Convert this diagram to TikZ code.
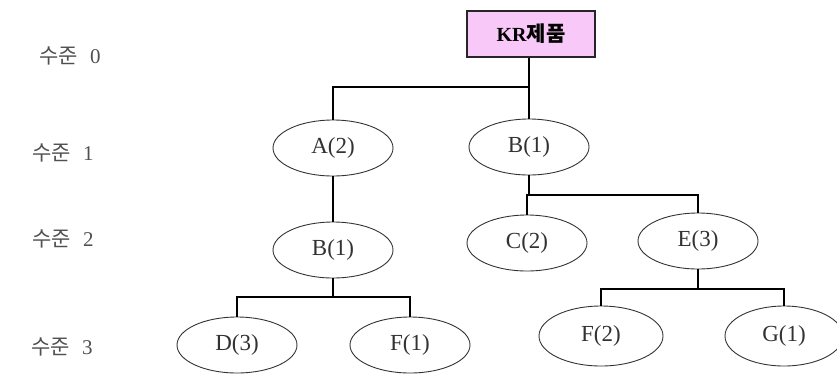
\documentclass[tikz,border=0pt]{standalone}
\usepackage{fontspec}
\setmainfont{Liberation Serif}
\newfontfamily\kr{Noto Sans CJK KR}
\usetikzlibrary{shapes.geometric}
\definecolor{boxpink}{RGB}{248,200,248}
\definecolor{txtgray}{RGB}{50,50,50}
\definecolor{lvlgray}{RGB}{80,80,80}
\tikzset{
  part/.style={ellipse, draw=black!80, line width=0.9pt, minimum width=120pt, minimum height=56pt, inner sep=0pt, font=\fontsize{23}{23}\selectfont, text=txtgray},
  topbox/.style={rectangle, draw=black!85, line width=1.4pt, fill=boxpink, minimum width=128pt, minimum height=46pt, inner sep=0pt, font=\fontsize{20}{20}\selectfont\bfseries},
  lvl/.style={font=\fontsize{21}{21}\selectfont, text=lvlgray, inner sep=0pt},
  conn/.style={line width=1.4pt, black}
}
\begin{document}
\begin{tikzpicture}[x=1pt,y=1pt]
\useasboundingbox (0,0) rectangle (837,-373);
% level labels
\node[lvl] (l0) at (70,-56) {{\kr 수준}\hspace{12pt}0};
\node[lvl] (l1) at (63,-153) {{\kr 수준}\hspace{12pt}1};
\node[lvl] (l2) at (63,-239) {{\kr 수준}\hspace{12pt}2};
\node[lvl] (l3) at (62,-347) {{\kr 수준}\hspace{12pt}3};
% nodes
\node[topbox] (kr) at (531,-34) {KR{\kr\fontsize{21}{21}\selectfont 제품}};
\node[part] (a2) at (333,-148) {A(2)};
\node[part] (b1) at (529,-147) {B(1)};
\node[part] (b2) at (333,-250) {B(1)};
\node[part] (c2) at (527,-243) {C(2)};
\node[part] (e3) at (698,-241) {E(3)};
\node[part] (d3) at (237,-345) {D(3)};
\node[part] (f1) at (410,-345) {F(1)};
\node[part, minimum width=124pt, minimum height=60pt] (f2) at (601,-336) {F(2)};
\node[part, minimum width=118pt, minimum height=60pt] (g1) at (784,-336) {G(1)};
% junctions
\coordinate (j0) at (529,-87);
\coordinate (j1) at (529,-195);
\coordinate (j2) at (333,-297);
\coordinate (j3) at (698,-289);
% connectors
\draw[conn] (kr.south -| j0) -- (b1.north);
\draw[conn] (a2.north) |- (j0);
\draw[conn] (a2.south) -- (b2.north);
\draw[conn] (b1.south) -- (j1);
\draw[conn] (c2.north) |- (j1) -| (e3.north);
\draw[conn] (b2.south) -- (j2);
\draw[conn] (d3.north) |- (j2) -| (f1.north);
\draw[conn] (e3.south) -- (j3);
\draw[conn] (f2.north) |- (j3) -| (g1.north);
\end{tikzpicture}
\end{document}
